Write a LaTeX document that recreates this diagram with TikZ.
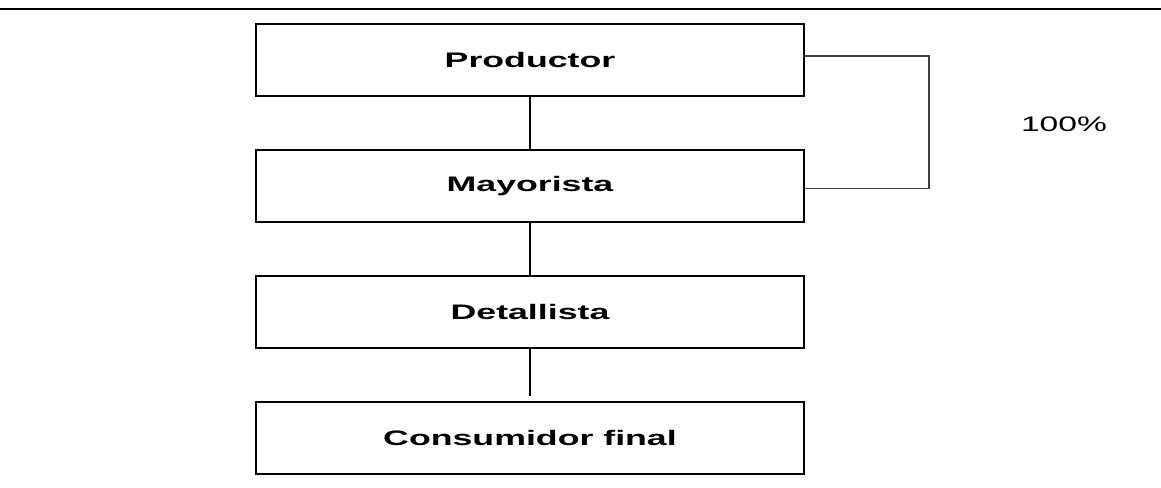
\documentclass[tikz,border=0pt]{standalone}
\usepackage{fontspec}
\setmainfont{Liberation Sans}
\usepackage{tikz}
\usetikzlibrary{positioning}
\tikzstyle{block} = [rectangle, draw, line width=1.6pt, fill=white,
minimum width=411pt, minimum height=54pt, inner sep=0pt,
font=\fontsize{15.75pt}{18pt}\selectfont\bfseries]
\tikzstyle{line} = [draw, line width=1.1pt]
\tikzstyle{bracket} = [draw, line width=0.9pt, black!75]
\newcommand{\ancho}[1]{\scalebox{1.7}[1]{#1}}

\begin{document}
\begin{tikzpicture}[x=0.75pt, y=-0.75pt, node distance = 39pt]
    \useasboundingbox (0,0) rectangle (1161,487);
    \draw[line width=1.5pt] (0,9) -- (1161,9);
    % nodes
    \node (prod) [block] at (530,60) {\ancho{Productor}};
    \node [block, below=of prod] (may) {\ancho{Mayorista}};
    \node [block, below=of may] (det) {\ancho{Detallista}};
    \node [block, below=of det] (cons) {\ancho{Consumidor final}};
    \node (pct) at (1064,124) [font=\fontsize{15.75pt}{18pt}\selectfont] {\scalebox{1.6}[1]{100\%}};

    % edges
         \path [line] (prod) -- (may);
         \path [line] (may) -- (det);
         \path [line] (det.south) -- ([yshift=3.8pt]cons.north);
         \path [bracket] ([yshift=3pt]prod.east) -- ([xshift=93pt,yshift=3pt]prod.east)
               |- ([yshift=-1.5pt]may.east);

  \end{tikzpicture}
\end{document}
